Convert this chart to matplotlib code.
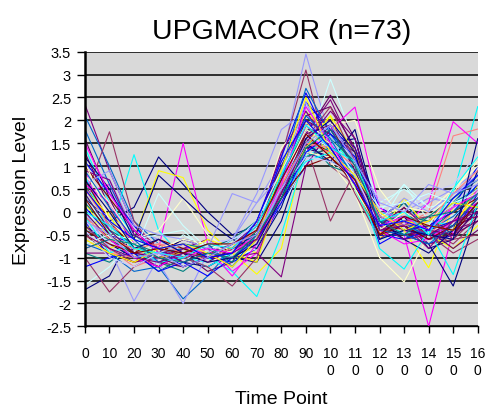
import matplotlib
matplotlib.use("Agg")
from matplotlib import pyplot as plt

plt.rcParams['font.family'] = ['Liberation Sans', 'DejaVu Sans']

time_points = [0, 10, 20, 30, 40, 50, 60, 70, 80, 90, 100, 110, 120, 130, 140, 150, 160]
tick_labels = ["0", "10", "20", "30", "40", "50", "60", "70", "80", "90",
               "10\n0", "11\n0", "12\n0", "13\n0", "14\n0", "15\n0", "16\n0"]

profiles = [
    [0.3, -0.2, 0.1, 1.2, 0.6, 0.0, -0.5, -0.3, 0.4, 1.3, 1.9, 1.2, -0.1, 0.2, -0.4, -0.2, 0.6],
    [0.9, -0.4, -0.9, -1.0, -0.7, -1.1, -0.8, -0.6, 0.6, 1.8, 1.2, 0.7, -0.3, -0.5, -2.5, -0.4, 0.3],
    [0.2, -0.6, -0.8, -0.7, -1.0, -0.9, -0.7, -0.9, 0.9, 2.2, 1.6, 0.8, -0.2, -0.4, -1.22, 0.1, 0.5],
    [1.4, 0.2, -0.5, -0.9, -0.8, -1.0, -0.6, -0.4, 0.5, 1.5, 1.7, 0.9, 0.0, -0.2, -0.3, 0.4, 2.3],
    [2.35, 0.9, -0.3, -0.8, -1.0, -1.2, -0.9, -0.5, 0.7, 1.9, 2.0, 1.1, -0.4, -0.1, -0.5, -0.2, 0.2],
    [-0.5, -0.9, -1.1, -0.9, -0.6, -0.8, -1.0, -0.7, 0.3, 1.2, 1.4, 0.6, -0.5, 0.1, -0.6, -0.3, -0.1],
    [0.6, -0.3, -0.7, -1.1, -1.3, -0.9, -0.6, -0.2, 1.0, 2.0, 1.3, 0.9, -0.1, -0.3, -0.2, 0.2, 0.8],
    [-0.2, -1.0, -0.8, -0.6, -0.9, -1.0, -1.1, -0.8, 0.2, 1.0, 1.8, 1.4, 0.1, -0.2, -0.7, -0.5, 0.4],
    [1.0, 0.7, -0.4, -0.6, -1.0, -0.7, -0.6, 0.2, 1.1, 3.45, 1.6, 0.8, -0.3, 0.0, 0.3, 0.2, 0.6],
    [0.5, -0.2, -1.0, -1.2, -0.8, -0.9, -1.2, -0.6, 1.2, 3.1, 1.0, 0.6, -0.6, -0.2, -0.4, -0.7, -0.2],
    [-0.8, -0.5, -0.7, -0.9, -1.1, -0.6, -0.8, -0.3, 1.4, 2.0, 1.1, 0.4, -1.0, -1.53, -0.5, 0.3, 0.9],
    [0.1, -0.7, -0.6, -1.0, -0.5, -0.8, -0.9, -0.6, 0.6, 1.3, 2.9, 1.5, 0.2, 0.5, 0.1, -0.1, 0.3],
    [1.6, 0.3, -0.8, -1.1, -1.2, -1.0, -0.7, -0.4, 0.8, 1.7, 2.55, 1.6, -0.2, -0.6, -0.3, -0.4, 0.0],
    [-0.3, -0.8, -1.2, -1.0, -0.7, -0.9, -1.0, -0.5, 0.4, 1.4, 1.2, 0.7, -0.4, -0.3, 0.0, 1.66, 1.81],
    [2.1, 1.0, -0.2, -0.7, -0.9, -0.8, -0.9, -0.7, 0.5, 1.6, 1.5, 0.9, -0.3, -0.6, -0.4, -0.1, 0.4],
    [-0.6, -0.9, -1.0, -0.8, -1.0, -1.2, -0.8, -0.6, 0.7, 1.8, 1.3, 1.0, 0.0, -0.4, -0.2, 0.3, 0.7],
    [-1.7, -1.4, -0.4, -0.9, -0.6, -0.7, -1.0, -1.1, -0.2, 1.4, 1.2, 0.8, -0.5, -0.1, -0.8, -0.6, 0.1],
    [0.4, 0.6, -0.5, -0.8, 1.5, -0.7, -1.3, -0.9, 0.3, 1.1, 1.6, 1.2, -0.2, -0.4, -0.6, -0.3, 0.5],
    [-0.4, 0.0, -0.6, -0.9, -0.9, -1.0, -0.9, -1.36, -0.8, 1.5, 2.1, 0.5, -0.6, 0.0, -0.5, -0.8, -0.3],
    [0.8, -0.5, 1.25, -0.4, -1.0, -1.1, -0.9, -0.6, 0.2, 1.2, 1.5, 1.1, -0.1, -0.5, -0.3, 0.1, 0.6],
    [-0.1, -0.6, -0.9, -1.2, -0.8, -0.6, -0.9, -0.4, 0.9, 1.7, 2.45, 1.3, -0.5, -0.3, -0.6, -0.4, -0.2],
    [0.7, -0.2, -0.8, -0.7, -1.0, -0.9, -0.8, -0.5, 0.5, 1.9, 1.4, 0.6, -0.4, -0.2, -0.1, -0.5, 0.2],
    [-0.9, -1.1, -0.7, -0.8, -0.9, -1.0, -0.7, -0.3, 0.6, 1.6, 1.0, 0.8, -0.3, 0.2, -0.4, 0.0, 0.5],
    [1.1, 0.4, -0.3, -0.9, -1.1, -0.9, -1.0, -0.6, 0.4, 2.4, 1.8, 1.0, -0.7, -0.4, -0.2, 0.1, 1.0],
    [0.0, -0.8, -1.95, -1.0, -0.7, -0.8, -0.6, 0.4, 1.8, 2.2, 1.2, 0.7, -0.2, -0.1, 0.2, 0.5, 0.9],
    [0.3, 1.75, -0.2, -0.9, -1.0, -0.8, -0.7, -0.4, 0.6, 1.5, -0.2, 0.9, -0.5, -0.3, -0.7, -0.6, -0.1],
    [-0.2, -0.4, -0.8, -0.6, -0.8, -1.1, -0.9, -0.7, 0.3, 1.7, 1.9, 2.0, 0.5, -0.2, -0.1, 0.4, 1.2],
    [-1.6, -1.2, -0.6, -0.5, -0.4, -0.9, -1.0, -0.8, 0.1, 1.1, 1.6, 1.2, 0.0, 0.6, -0.2, 0.0, 0.4],
    [1.3, 0.1, -0.9, -1.0, -0.9, -1.3, -1.1, -0.2, 1.0, 2.1, 2.3, 1.4, -0.3, -0.5, -0.4, -0.8, -0.4],
    [0.5, -0.3, -0.6, -1.1, -0.9, -0.7, -0.8, -0.4, 0.7, 1.8, 1.5, 0.6, -0.2, -0.3, -0.5, 0.0, 0.5],
    [-0.7, -0.9, -1.3, -1.2, -1.9, -1.4, -0.8, -0.5, 0.4, 1.3, 1.1, 0.9, -0.4, -0.2, -0.6, -0.4, 0.2],
    [0.2, -0.1, -0.5, -0.7, -0.9, -0.8, -0.7, -0.6, 0.5, 1.6, 1.7, 1.0, -0.1, -0.4, -0.3, 0.2, 0.6],
    [-0.3, -0.7, -1.0, -0.8, -1.1, -1.2, -0.9, -0.4, 0.6, 1.4, 1.5, 1.6, -0.3, -0.5, -0.7, -1.62, 0.0],
    [0.6, 0.2, -0.7, -1.0, -0.8, -0.9, -1.0, -0.5, 0.2, 1.3, 1.8, 2.29, 0.1, -0.3, 0.2, 1.97, 1.5],
    [-0.5, -0.8, -0.6, 0.9, 0.75, -0.4, -0.9, -1.1, 0.5, 2.0, 1.2, 0.8, -0.5, 0.3, -0.4, -0.2, 0.3],
    [0.4, -0.4, -0.9, -1.1, -0.9, -1.0, -1.3, -1.85, -0.5, 1.3, 1.6, 0.5, -0.6, -0.4, -0.2, -0.3, 0.1],
    [-0.9, -0.9, -1.1, -1.0, -0.8, -0.9, -1.0, -0.9, -1.42, 1.0, 1.8, 1.0, -0.4, -0.2, -0.5, -0.3, 0.1],
    [1.0, 0.3, -0.4, -0.9, -1.0, -0.7, -0.8, -0.4, 0.8, 1.6, 1.3, 0.9, -0.2, -0.4, -0.3, 0.0, 0.3],
    [-0.4, -0.6, -0.9, -1.3, -1.0, -0.8, -0.6, -0.5, 0.3, 1.2, 1.4, 1.1, -0.1, -0.3, -0.1, 0.3, 0.7],
    [0.1, -0.5, -0.7, -0.8, -1.2, -1.0, -0.7, -0.2, 1.2, 2.6, 1.5, 0.7, -0.5, -0.6, -0.4, -0.2, 0.2],
    [-0.5, -0.3, -0.8, -1.1, -2.0, -0.9, -0.7, -0.3, 0.5, 1.4, 1.9, 1.2, 0.0, -0.1, -0.3, 0.4, 0.8],
    [-1.0, -1.75, -1.2, -0.9, -0.7, -1.0, -0.8, -0.4, 0.9, 1.9, 1.5, 0.4, -0.6, -0.2, -0.5, -0.9, -0.6],
    [0.8, 0.2, -0.6, -0.4, 0.3, -0.5, -0.9, -0.6, 0.2, 1.3, 1.2, 0.9, -0.1, 0.1, 0.0, 0.5, 1.0],
    [0.3, -0.4, -0.9, 0.4, -0.3, -0.8, -1.0, -0.5, 0.6, 1.7, 1.4, 0.7, -0.3, 0.6, 0.1, 0.2, 0.5],
    [0.0, -0.6, -1.0, -1.2, -0.9, -1.1, -0.8, -0.3, 0.7, 2.0, 1.7, 1.3, -0.4, -0.3, -0.6, -0.5, 0.0],
    [-0.6, -0.9, -1.0, -0.7, -0.8, -1.1, -1.0, -0.6, 0.4, 1.5, 1.3, 0.8, -0.3, -0.4, -0.2, 0.1, 0.4],
    [1.8, 0.6, -0.5, -0.9, -0.8, -1.0, -0.9, -0.5, 0.9, 2.7, 1.7, 1.0, -0.2, -0.3, -0.5, -0.3, 0.3],
    [-0.2, -0.7, -0.8, -1.0, -1.1, -0.7, -0.6, -0.4, 0.5, 1.6, 1.5, 1.0, 0.3, 0.0, 0.4, 0.6, 1.3],
    [1.2, 0.5, -0.6, 0.8, 0.3, -0.2, -0.6, -0.8, 0.1, 1.5, 1.1, 1.8, -0.2, -0.6, -0.9, -0.4, 0.9],
    [-0.8, -0.6, -1.0, -1.2, -0.9, -0.8, -1.4, -0.7, 0.5, 1.9, 1.6, 0.8, -0.4, -0.7, -0.6, -0.2, 0.2],
    [0.5, -0.1, -0.8, -1.0, -0.9, -0.6, -0.8, -0.6, 0.6, 1.4, 2.1, 1.3, -0.5, -0.2, -0.3, -0.4, 0.6],
    [-0.1, -0.9, -0.7, -1.1, -1.0, -1.2, -0.9, -0.5, 0.4, 1.1, 1.3, 0.9, -0.8, -1.25, -0.4, -1.37, 0.2],
    [0.9, 0.7, -0.5, -0.8, -1.1, -0.9, -0.7, -0.3, 1.3, 2.2, 1.4, 0.7, -0.3, -0.6, -0.5, -0.2, -0.1],
    [-0.4, -0.7, -0.9, -0.6, -0.8, -1.0, -0.9, -0.5, 0.3, 1.0, 1.2, 0.6, -0.5, -0.3, -0.6, -0.3, 0.3],
    [0.2, -0.4, -0.7, -0.9, -0.7, -0.8, -1.1, -0.4, 0.8, 1.8, 1.6, 1.1, -0.2, -0.1, -0.2, 0.2, 0.5],
    [-1.2, -1.0, -0.9, -1.3, -1.1, -1.4, -1.0, -0.6, 0.2, 1.3, 1.7, 1.2, -0.1, -0.4, -0.3, 0.0, 0.6],
    [0.6, 0.9, -0.3, -0.5, -0.6, -0.8, 0.4, 0.2, 0.8, 2.4, 1.3, 0.6, -0.2, 0.3, 0.0, 0.4, 0.7],
    [-0.3, -0.8, -1.1, -0.8, -1.0, -1.2, -1.62, -1.0, 0.5, 1.6, 2.3, 1.1, -0.5, -0.2, -0.1, -0.6, -0.5],
    [1.1, -0.2, -0.7, -0.8, -0.6, -0.7, -0.9, -0.5, 0.7, 1.8, 1.5, 0.5, -0.4, 0.0, -0.3, 0.5, 1.1],
    [-0.7, -0.5, -0.6, -0.9, -1.0, -0.8, -0.7, -0.2, 0.9, 1.9, 1.6, 0.8, 0.1, 0.2, 0.4, 0.2, 0.4],
    [0.4, -0.4, -0.9, -1.0, -1.2, -1.0, -0.8, -0.6, 0.4, 1.7, 1.9, 0.9, -0.3, 0.1, -0.4, -0.5, -0.2],
    [-0.1, -0.6, -0.8, -0.7, -0.9, -1.0, -0.8, -0.4, 0.6, 1.5, 1.4, 1.0, -0.1, -0.3, -0.2, 0.4, 0.9],
    [0.9, 0.1, -0.6, -1.1, -0.9, -0.7, -1.2, -0.5, 0.7, 2.1, 1.6, 0.7, -0.4, -0.5, -0.7, -0.3, 0.3],
    [-0.4, -1.0, -1.2, -0.9, -0.7, -0.9, -0.6, -0.3, 0.5, 1.2, 1.1, 0.8, -0.3, -0.2, -0.4, 0.1, 0.5],
    [0.7, 0.0, -0.8, -0.6, -0.9, -1.1, -1.0, -0.7, 0.3, 1.6, 2.0, 1.3, -0.6, -0.4, -0.5, -0.6, 1.6],
    [1.5, 0.4, -0.4, -0.9, -1.0, -0.8, -0.9, -0.5, 0.6, 2.3, 1.5, 0.6, -0.3, -0.1, -0.4, 0.1, 0.4],
    [-0.6, -0.9, -1.1, -0.8, -0.7, -0.9, -1.2, -0.6, 0.9, 2.5, 1.3, 0.8, 0.0, -0.4, -0.2, 0.2, 0.1],
    [0.0, -0.3, -0.8, -0.9, -1.0, -0.7, -0.8, -0.3, 0.8, 1.9, 1.4, 1.1, -0.2, 0.0, -0.5, 0.5, 1.2],
    [-0.5, -0.8, -1.0, -1.1, -0.9, -1.0, -0.9, -0.6, 0.4, 1.5, 2.2, 1.6, -0.4, -0.3, -0.8, -0.2, 0.0],
    [0.3, -0.5, -0.9, -0.8, -0.9, -0.7, -0.7, -0.4, 0.7, 1.7, 1.2, 0.7, -0.5, -0.1, -0.3, -0.4, 0.2],
    [-0.8, -0.6, -0.7, -1.0, -1.1, -0.9, -1.0, -0.5, 0.3, 1.4, 1.8, 1.0, -0.2, -0.5, -0.1, 0.0, 0.4],
    [0.5, -0.2, -0.6, -0.8, -0.7, -1.0, -0.9, -0.2, 1.1, 2.0, 1.4, 0.6, -0.3, -0.2, -0.4, 0.3, 0.8],
    [-0.2, -0.5, -1.0, -0.9, -1.2, -1.0, -0.7, -0.5, 0.5, 1.5, 1.9, 1.1, 0.2, 0.0, 0.6, 0.4, 0.6],
]

# excel-ish series colours, repeated
colors = ['#000080', '#FF00FF', '#FFFF00', '#00FFFF', '#800080', '#800000', '#008080', '#0000FF',
          '#9999FF', '#993366', '#FFFFCC', '#CCFFFF', '#660066', '#FF8080', '#0066CC', '#CCCCFF']


def main():
    fig = plt.figure(figsize=(4.88, 4.14), dpi=100)
    ax = fig.add_axes([0.174, 0.2094, 0.805, 0.6633])
    ax.set_facecolor('#D9D9D9')

    for i, p in enumerate(profiles):
        ax.plot(time_points, p, color=colors[i % len(colors)], lw=0.8)

    ax.set_xlim(0, 160)
    ax.set_ylim(-2.5, 3.5)
    ax.set_yticks([-2.5 + 0.5 * k for k in range(13)])
    ax.set_yticklabels(['%g' % (-2.5 + 0.5 * k) for k in range(13)], fontsize=10.5)
    ax.set_xticks(time_points)
    ax.set_xticklabels(tick_labels, fontsize=10, linespacing=1.3, va='top')

    ax.set_axisbelow(True)
    ax.grid(axis='y', color='black', lw=1.1)
    for s in ['top', 'right']:
        ax.spines[s].set_visible(False)
    ax.spines['left'].set_linewidth(1.8)
    ax.spines['bottom'].set_linewidth(1.0)
    ax.tick_params(axis='y', length=6, width=1, pad=4)
    ax.tick_params(axis='x', length=5, width=1, pad=9)

    ax.set_title('UPGMACOR (n=73)', fontsize=20.5, pad=10)
    ax.set_xlabel('Time Point', fontsize=14, labelpad=9)
    ax.set_ylabel('Expression Level', fontsize=14, labelpad=11)

    fig.savefig('out.png', dpi=100)


if __name__ == '__main__':
    main()
